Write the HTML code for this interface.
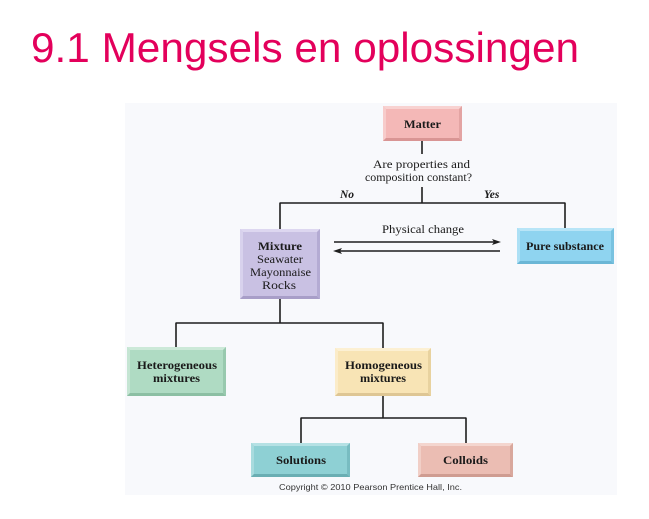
<!DOCTYPE html>
<html>
<head>
<meta charset="utf-8">
<style>
  html, body { margin:0; padding:0; background:#ffffff; }
  body { width:649px; height:519px; overflow:hidden; position:relative; }
  svg { position:absolute; left:0; top:0; }
  .s { font-family:"Liberation Serif", "Times New Roman", serif; fill:#1a1a1a; }
</style>
</head>
<body>
<svg width="649" height="519" viewBox="0 0 649 519" xmlns="http://www.w3.org/2000/svg">
  <text x="31" y="62" font-family="Liberation Sans, Arial, sans-serif" font-size="42" fill="#e3005b" textLength="548" lengthAdjust="spacingAndGlyphs">9.1 Mengsels en oplossingen</text>

  <rect x="125" y="103" width="492" height="392" fill="#f8f9fc"/>

  <!-- connectors -->
  <g stroke="#1e1e1e" stroke-width="1.6" fill="none">
    <line x1="422" y1="141" x2="422" y2="154"/>
    <line x1="422" y1="187" x2="422" y2="203"/>
    <line x1="279.5" y1="203" x2="565.5" y2="203"/>
    <line x1="280" y1="203" x2="280" y2="229"/>
    <line x1="565" y1="203" x2="565" y2="228"/>
    <line x1="280" y1="299" x2="280" y2="323"/>
    <line x1="175.5" y1="323" x2="383.5" y2="323"/>
    <line x1="176" y1="323" x2="176" y2="347"/>
    <line x1="383" y1="323" x2="383" y2="348"/>
    <line x1="383" y1="396" x2="383" y2="418"/>
    <line x1="300.5" y1="418" x2="466.5" y2="418"/>
    <line x1="301" y1="418" x2="301" y2="443"/>
    <line x1="466" y1="418" x2="466" y2="443"/>
    <line x1="334" y1="242" x2="496" y2="242"/>
    <line x1="338" y1="251" x2="500" y2="251"/>
  </g>
  <polygon points="501,242 492,239 494,242 492,245" fill="#1e1e1e"/>
  <polygon points="333,251 342,248 340,251 342,254" fill="#1e1e1e"/>

  <!-- Matter -->
  <g>
    <rect x="383" y="106" width="79" height="35" fill="#f4b8b7"/>
    <polygon points="383,106 462,106 459,109 386,109" fill="#f8d2d1"/>
    <polygon points="383,106 386,109 386,138 383,141" fill="#f7cccb"/>
    <polygon points="383,141 462,141 459,138 386,138" fill="#d99594"/>
    <polygon points="462,106 462,141 459,138 459,109" fill="#e3a4a3"/>
  </g>
  <!-- Mixture -->
  <g>
    <rect x="240" y="229" width="80" height="70" fill="#c9c1e3"/>
    <polygon points="240,229 320,229 317,232 243,232" fill="#ddd7f0"/>
    <polygon points="240,229 243,232 243,296 240,299" fill="#d8d2ed"/>
    <polygon points="240,299 320,299 317,296 243,296" fill="#a89ec8"/>
    <polygon points="320,229 320,299 317,296 317,232" fill="#b4abd3"/>
  </g>
  <!-- Pure substance -->
  <g>
    <rect x="517" y="228" width="97" height="36" fill="#8fd4f0"/>
    <polygon points="517,228 614,228 611,231 520,231" fill="#b8e5f7"/>
    <polygon points="517,228 520,231 520,261 517,264" fill="#ade0f5"/>
    <polygon points="517,264 614,264 611,261 520,261" fill="#6bb7d6"/>
    <polygon points="614,228 614,264 611,261 611,231" fill="#78c2e0"/>
  </g>
  <!-- Heterogeneous -->
  <g>
    <rect x="127" y="347" width="99" height="49" fill="#afdbc3"/>
    <polygon points="127,347 226,347 223,350 130,350" fill="#cce9d8"/>
    <polygon points="127,347 130,350 130,393 127,396" fill="#c5e5d3"/>
    <polygon points="127,396 226,396 223,393 130,393" fill="#8cbfa3"/>
    <polygon points="226,347 226,396 223,393 223,350" fill="#98c9ae"/>
  </g>
  <!-- Homogeneous -->
  <g>
    <rect x="335" y="348" width="96" height="48" fill="#f8e4b5"/>
    <polygon points="335,348 431,348 428,351 338,351" fill="#fcf0d3"/>
    <polygon points="335,348 338,351 338,393 335,396" fill="#fbecc9"/>
    <polygon points="335,396 431,396 428,393 338,393" fill="#dec694"/>
    <polygon points="431,348 431,396 428,393 428,351" fill="#e8d29f"/>
  </g>
  <!-- Solutions -->
  <g>
    <rect x="251" y="443" width="99" height="34" fill="#8ed0d4"/>
    <polygon points="251,443 350,443 347,446 254,446" fill="#b5e1e4"/>
    <polygon points="251,443 254,446 254,474 251,477" fill="#a8dbde"/>
    <polygon points="251,477 350,477 347,474 254,474" fill="#6aaeb3"/>
    <polygon points="350,443 350,477 347,474 347,446" fill="#78bcc1"/>
  </g>
  <!-- Colloids -->
  <g>
    <rect x="418" y="443" width="95" height="34" fill="#ebbdb3"/>
    <polygon points="418,443 513,443 510,446 421,446" fill="#f4d6cf"/>
    <polygon points="418,443 421,446 421,474 418,477" fill="#f1cfc7"/>
    <polygon points="418,477 513,477 510,474 421,474" fill="#cf9c91"/>
    <polygon points="513,443 513,477 510,474 510,446" fill="#d9a89d"/>
  </g>

  <!-- labels -->
  <g class="s" font-size="12" lengthAdjust="spacingAndGlyphs">
    <text x="404" y="128" font-weight="bold" textLength="37" lengthAdjust="spacingAndGlyphs">Matter</text>
    <text x="373" y="168" textLength="97" lengthAdjust="spacingAndGlyphs">Are properties and</text>
    <text x="365" y="181" textLength="107" lengthAdjust="spacingAndGlyphs">composition constant?</text>
    <text x="382" y="233" textLength="82" lengthAdjust="spacingAndGlyphs">Physical change</text>
    <text x="258" y="250" font-weight="bold" textLength="44" lengthAdjust="spacingAndGlyphs">Mixture</text>
    <text x="257" y="263" textLength="46" lengthAdjust="spacingAndGlyphs">Seawater</text>
    <text x="250" y="276" textLength="61" lengthAdjust="spacingAndGlyphs">Mayonnaise</text>
    <text x="262" y="289" textLength="34" lengthAdjust="spacingAndGlyphs">Rocks</text>
    <text x="526" y="250" font-weight="bold" textLength="78" lengthAdjust="spacingAndGlyphs">Pure substance</text>
    <text x="137" y="369" font-weight="bold" textLength="80" lengthAdjust="spacingAndGlyphs">Heterogeneous</text>
    <text x="153" y="382" font-weight="bold" textLength="47" lengthAdjust="spacingAndGlyphs">mixtures</text>
    <text x="345" y="369" font-weight="bold" textLength="77" lengthAdjust="spacingAndGlyphs">Homogeneous</text>
    <text x="360" y="382" font-weight="bold" textLength="46" lengthAdjust="spacingAndGlyphs">mixtures</text>
    <text x="276" y="464" font-weight="bold" textLength="50" lengthAdjust="spacingAndGlyphs">Solutions</text>
    <text x="443" y="464" font-weight="bold" textLength="45" lengthAdjust="spacingAndGlyphs">Colloids</text>
  </g>
  <text class="s" x="340" y="198" font-size="11.5" font-weight="bold" font-style="italic">No</text>
  <text class="s" x="484" y="198" font-size="11.5" font-weight="bold" font-style="italic">Yes</text>

  <text x="279" y="490" font-family="Liberation Sans, Arial, sans-serif" font-size="8.5" fill="#333" textLength="183" lengthAdjust="spacingAndGlyphs">Copyright © 2010 Pearson Prentice Hall, Inc.</text>
</svg>
</body>
</html>
